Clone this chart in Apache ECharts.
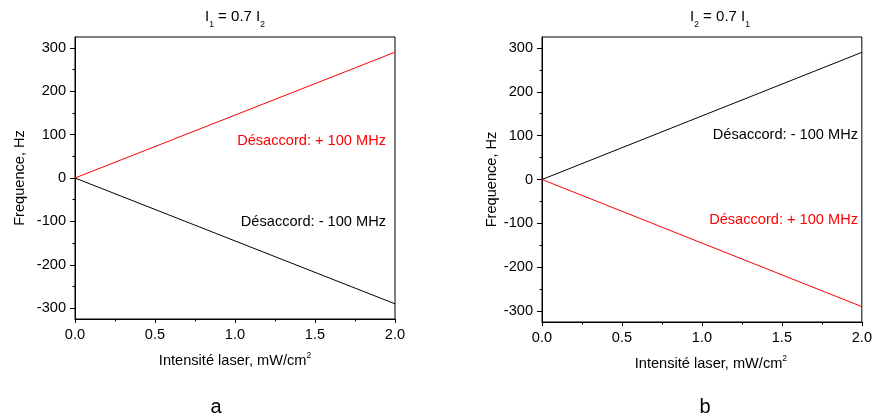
<!DOCTYPE html>
<html><head><meta charset="utf-8">
<script src="https://cdn.jsdelivr.net/npm/echarts@6/dist/echarts.min.js"></script>
<style>html,body{margin:0;padding:0;background:#fff}#c{width:875px;height:419px}</style>
</head><body><div id="c"></div>
<script>
// ---- data ----
const xValues = [0, 2];
const leftPlus = [0, 290];     // Désaccord: + 100 MHz (panel a)
const leftMinus = [0, -290];   // Désaccord: - 100 MHz (panel a)
const rightMinus = [0, 290];   // Désaccord: - 100 MHz (panel b)
const rightPlus = [0, -290];   // Désaccord: + 100 MHz (panel b)
const yMajorTicks = [-300, -200, -100, 0, 100, 200, 300];
const yMinorTicks = [-250, -150, -50, 50, 150, 250];
const yRange = [-325, 325];
const xRange = [0, 2];
const xInterval = 0.5;

const FONT = 'Arial, "Liberation Sans", sans-serif';
const FS = 14.6;
const RED = '#ff0000';
const BLACK = '#000000';

function pairs(ys) { return xValues.map((x, i) => [x, ys[i]]); }

function xAxisCfg(gi, padLeft) {
  return {
    gridIndex: gi, type: 'value', min: xRange[0], max: xRange[1], interval: xInterval,
    axisLine: { show: true, onZero: false, lineStyle: { color: BLACK, width: 1 } },
    axisTick: { show: true, inside: false, length: 4, lineStyle: { color: BLACK } },
    minorTick: { show: true, splitNumber: 2, length: 2.5, lineStyle: { color: BLACK } },
    splitLine: { show: false }, minorSplitLine: { show: false },
    axisLabel: { fontSize: FS, fontFamily: FONT, color: BLACK, margin: 8, formatter: v => v.toFixed(1) },
    name: '{n|Intensité laser, mW/cm}{p|2}', nameLocation: 'middle', nameGap: 32,
    nameTextStyle: {
      padding: [0, 0, 0, padLeft],
      rich: {
        n: { fontSize: FS, fontFamily: FONT, color: BLACK, verticalAlign: 'top', padding: [2, 0, 0, 0] },
        p: { fontSize: 8.5, fontFamily: FONT, color: BLACK, verticalAlign: 'top' }
      }
    }
  };
}
function yMajorCfg(gi, gap) {
  return {
    gridIndex: gi, type: 'value', min: yRange[0], max: yRange[1], position: 'left',
    axisLine: { show: true, onZero: false, lineStyle: { color: BLACK, width: 1 } },
    axisTick: { show: true, length: 5, customValues: yMajorTicks, lineStyle: { color: BLACK } },
    axisLabel: { customValues: yMajorTicks, fontSize: FS, fontFamily: FONT, color: BLACK, margin: 9 },
    splitLine: { show: false },
    name: 'Frequence, Hz', nameLocation: 'middle', nameGap: gap,
    nameTextStyle: { fontSize: FS, fontFamily: FONT, color: BLACK }
  };
}
function yMinorCfg(gi) {
  return {
    gridIndex: gi, type: 'value', min: yRange[0], max: yRange[1], position: 'left',
    axisLine: { show: false },
    axisTick: { show: true, length: 2.5, customValues: yMinorTicks, lineStyle: { color: BLACK } },
    axisLabel: { show: false },
    splitLine: { show: false }
  };
}
function lineSeries(xi, yi, ys, color) {
  return {
    type: 'line', xAxisIndex: xi, yAxisIndex: yi, data: pairs(ys),
    symbol: 'none', silent: true, animation: false,
    lineStyle: { color: color, width: 1 }
  };
}
const titleRich = {
  n: { fontSize: 15, fontFamily: FONT, fill: BLACK, verticalAlign: 'bottom', padding: [0, 0, 5, 0] },
  s: { fontSize: 8.5, fontFamily: FONT, fill: BLACK, verticalAlign: 'bottom' }
};
function txt(x, y, text, color, align) {
  return { type: 'text', x: x, y: y, silent: true,
    style: { text: text, fill: color, fontSize: FS, fontFamily: FONT, align: align, verticalAlign: 'middle' } };
}

const chart = echarts.init(document.getElementById('c'), null, { renderer: 'canvas' });
chart.setOption({
  animation: false,
  backgroundColor: '#ffffff',
  grid: [
    { left: 75, right: 480, top: 37, bottom: 100, show: true, borderColor: BLACK, borderWidth: 1, backgroundColor: 'transparent', containLabel: false },
    { left: 542, right: 11, top: 37, bottom: 97, show: true, borderColor: BLACK, borderWidth: 1, backgroundColor: 'transparent', containLabel: false }
  ],
  xAxis: [xAxisCfg(0, 0), xAxisCfg(1, 18)],
  yAxis: [yMajorCfg(0, 48), yMinorCfg(0), yMajorCfg(1, 42), yMinorCfg(1)],
  series: [
    lineSeries(0, 0, leftPlus, RED),
    lineSeries(0, 0, leftMinus, BLACK),
    lineSeries(1, 2, rightMinus, BLACK),
    lineSeries(1, 2, rightPlus, RED)
  ],
  graphic: [
    { type: 'text', x: 235, y: 9, silent: true,
      style: { text: '{n|I}{s|1}{n| = 0.7 I}{s|2}', rich: titleRich, align: 'center', verticalAlign: 'top' } },
    { type: 'text', x: 720, y: 9, silent: true,
      style: { text: '{n|I}{s|2}{n| = 0.7 I}{s|1}', rich: titleRich, align: 'center', verticalAlign: 'top' } },
    txt(386, 141, 'Désaccord: + 100 MHz', RED, 'right'),
    txt(386, 222, 'Désaccord: - 100 MHz', BLACK, 'right'),
    txt(858, 135, 'Désaccord: - 100 MHz', BLACK, 'right'),
    txt(858, 220, 'Désaccord: + 100 MHz', RED, 'right'),
    { type: 'text', x: 216, y: 407, silent: true,
      style: { text: 'a', fill: BLACK, fontSize: 20, fontFamily: FONT, align: 'center', verticalAlign: 'middle' } },
    { type: 'text', x: 705, y: 407, silent: true,
      style: { text: 'b', fill: BLACK, fontSize: 20, fontFamily: FONT, align: 'center', verticalAlign: 'middle' } }
  ]
});
</script></body></html>
